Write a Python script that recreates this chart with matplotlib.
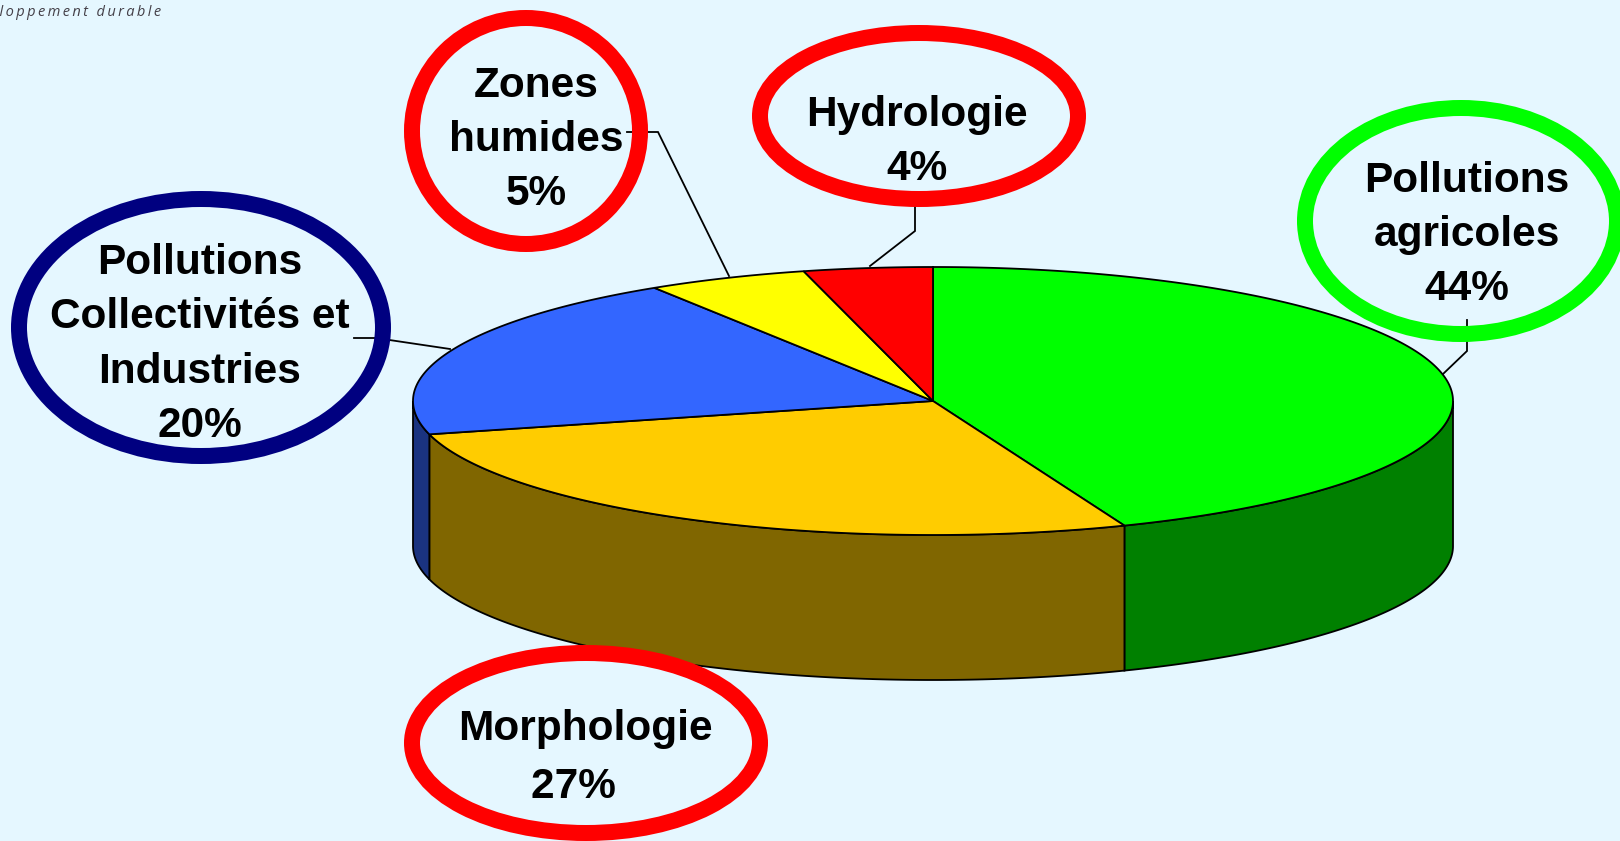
import numpy as np
import matplotlib
matplotlib.use("Agg")
import matplotlib.pyplot as plt
from matplotlib.patches import Ellipse

labels = ["Pollutions\nagricoles\n44%", "Morphologie\n27%  ", "Pollutions\nCollectivités et\nIndustries\n20%",
          "Zones\nhumides\n5%", "Hydrologie\n4%"]
values = [44, 27, 20, 5, 4]
top_colors = ["#00FF00", "#FFCC00", "#3366FF", "#FFFF00", "#FF0000"]
side_colors = ["#008000", "#806600", "#1A3380", "#808000", "#800000"]
ring_colors = ["#00FF00", "#FF0000", "#000080", "#FF0000", "#FF0000"]

BG = "#E5F7FF"
CX, CY, A, B, DEPTH = 933, 401, 520, 134, 145

fig = plt.figure(figsize=(16.2, 8.41), dpi=100, facecolor=BG)
ax = fig.add_axes([0, 0, 1, 1])
ax.set_xlim(0, 1620)
ax.set_ylim(841, 0)
ax.axis("off")


def rim(t0, t1, dy=0.0):
    t = np.radians(np.linspace(t0, t1, max(int(abs(t1 - t0) * 2), 2)))
    return CX + A * np.sin(t), CY - B * np.cos(t) + dy


edges = np.concatenate([[0], np.cumsum(values)]) * 3.6
for i in range(len(values)):
    t0, t1 = max(edges[i], 90), min(edges[i + 1], 270)
    if t1 > t0:
        x, y = rim(t0, t1)
        xb, yb = rim(t0, t1, DEPTH)
        ax.fill(np.r_[x, xb[::-1]], np.r_[y, yb[::-1]], fc=side_colors[i], ec="black", lw=1.3, zorder=2)
for i in range(len(values)):
    x, y = rim(edges[i], edges[i + 1])
    ax.fill(np.r_[CX, x], np.r_[CY, y], fc=top_colors[i], ec="black", lw=1.3, zorder=3)

centers = [(1461, 221), (586, 743), (201, 327.5), (526, 131), (919, 116)]
radii = [(164, 121), (182, 98), (190, 136.5), (122, 121), (167, 91)]
text_pos = [(1467, 235), (585, 758), (200, 344.5), (536, 140), (917, 142)]
line_space = [1.46, 1.61, 1.46, 1.46, 1.46]
leaders = [
    ([1467, 1467, 1443], [320, 351, 374]),
    ([], []),
    ([354, 376, 450], [338, 338, 349]),
    ([627, 658, 729], [132, 132, 276]),
    ([915, 915, 870], [200, 231, 266]),
]
STROKE = 16
for i in range(len(values)):
    (cx, cy), (rx, ry) = centers[i], radii[i]
    ax.add_patch(Ellipse((cx, cy), 2 * rx - STROKE, 2 * ry - STROKE, fc=BG, ec="none", zorder=4))
    ax.add_patch(Ellipse((cx, cy), 2 * rx - STROKE, 2 * ry - STROKE, fc="none", ec=ring_colors[i],
                         lw=STROKE * 0.72, zorder=6))
    lx, ly = leaders[i]
    if lx:
        ax.plot(lx, ly, color="black", lw=1.3, zorder=5, solid_joinstyle="miter")
    ax.text(*text_pos[i], labels[i], ha="center", va="center", ma="center", fontsize=30.5, fontweight="bold",
            family="Liberation Sans", linespacing=line_space[i], color="black", zorder=7)

ax.text(161, 12, "\u2009".join("Développement durable"), ha="right", va="center", fontsize=10.5, style="italic",
        family=["Open Sans", "DejaVu Sans"], color="#444048")

fig.savefig("out.png", dpi=100, facecolor=BG)
